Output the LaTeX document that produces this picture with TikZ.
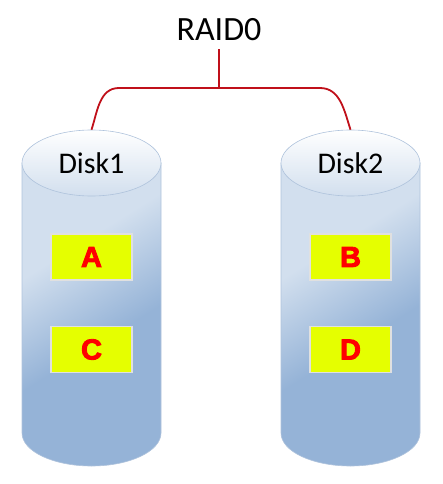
\documentclass[tikz,border=0pt]{standalone}
\usepackage{fontspec}
\setmainfont{Carlito}
\newfontfamily\blockfont[BoldFeatures={FakeBold=3}]{Liberation Sans}
\usetikzlibrary{shapes.geometric}

\definecolor{diskdark}{HTML}{95B3D7}
\definecolor{disklight}{HTML}{D2DFEE}
\definecolor{diskline}{HTML}{AFC3DC}
\definecolor{linkred}{HTML}{C0101A}
\definecolor{blockyellow}{HTML}{E5FF00}

\pgfdeclareverticalshading{diskbody}{100bp}{color(0bp)=(diskdark); color(44bp)=(diskdark); color(64bp)=(disklight); color(100bp)=(disklight)}

\tikzset{
  disktop/.style={ellipse, draw=diskline, line width=0.6pt, top color=white, bottom color=disklight,
    minimum width=139pt, minimum height=66pt, inner sep=0pt, font=\fontsize{30}{32}\selectfont},
  block/.style={draw=black!12, line width=1.2pt, fill=blockyellow, minimum width=81pt,
    minimum height=46pt, inner sep=0pt, text=red, font=\blockfont\bfseries\fontsize{29}{30}\selectfont},
  link/.style={draw=linkred, line width=1.8pt},
}

\begin{document}
\begin{tikzpicture}[x=1pt,y=1pt]
  \useasboundingbox (0,0) rectangle (443,-484);

  % Cuerpos de los discos
  \foreach \cx in {91.5,350.5}{
    \shade[shading=diskbody, shading angle=32, draw=diskline, line width=0.6pt]
      (\cx-69.5,-163) -- (\cx-69.5,-433)
      arc[start angle=180, end angle=360, x radius=69.5, y radius=33]
      -- (\cx+69.5,-163) -- cycle;
  }

  % Tapas
  \node[disktop] (disk1) at (91.5,-163) {Disk1};
  \node[disktop] (disk2) at (350.5,-163) {Disk2};

  % Bloques
  \node[block] (blockA) at (91.5,-257) {A};
  \node[block] (blockC) at (91.5,-349.5) {C};
  \node[block] (blockB) at (350.5,-257) {B};
  \node[block] (blockD) at (350.5,-349.5) {D};

  % Etiqueta y conexiones
  \node[inner sep=8pt, font=\fontsize{34}{36}\selectfont] (raid) at (219,-30) {RAID0};
  \coordinate (fork) at (219,-88);
  \draw[link] (raid.south) -- (fork);
  \draw[link] (fork) -- ++(-100,0) to[out=180,in=72] (disk1.north);
  \draw[link] (fork) -- ++(101,0) to[out=0,in=108] (disk2.north);
\end{tikzpicture}
\end{document}
